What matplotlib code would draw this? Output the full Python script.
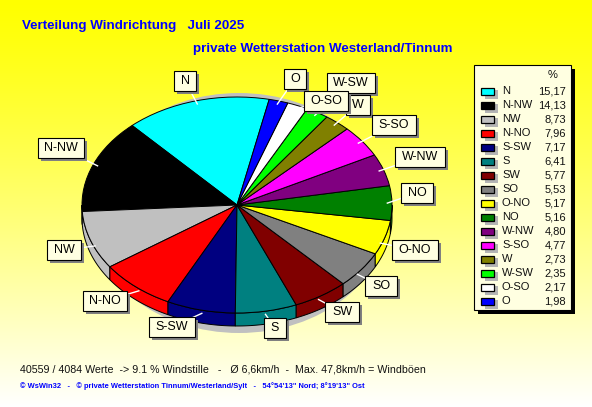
import numpy as np
import matplotlib
matplotlib.use("Agg")
import matplotlib.pyplot as plt
from matplotlib.patches import Rectangle, Polygon, Ellipse

W, H = 592, 407
categories = ["N","N-NW","NW","N-NO","S-SW","S","SW","SO","O-NO","NO","W-NW","S-SO","W","W-SW","O-SO","O"]
values = [15.17,14.13,8.73,7.96,7.17,6.41,5.77,5.53,5.17,5.16,4.80,4.77,2.73,2.35,2.17,1.98]
value_labels = ["15,17","14,13","8,73","7,96","7,17","6,41","5,77","5,53","5,17","5,16","4,80","4,77","2,73","2,35","2,17","1,98"]
colors = ["#00ffff","#000000","#c0c0c0","#ff0000","#000080","#008080","#800000","#808080","#ffff00","#008000","#800080","#ff00ff","#808000","#00ff00","#ffffff","#0000ff"]
label_boxes = {"N":(185,81),"O":(295,79),"W-SW":(351,83),"W":(358,105),"O-SO":(326,101),"S-SO":(394,125),
               "W-NW":(420,157),"NO":(417,193),"O-NO":(415,250),"SO":(381,286),"SW":(342,312),"S":(275,328),
               "S-SW":(172,327),"N-NO":(105,301),"NW":(64,250),"N-NW":(61,148)}
label_order = ["N","O","W-SW","W","O-SO","S-SO","W-NW","NO","O-NO","SO","SW","S","S-SW","N-NO","NW","N-NW"]

plt.rcParams["font.family"] = ["Liberation Sans", "DejaVu Sans"]
fig = plt.figure(figsize=(W/100, H/100), dpi=100)

bg = fig.add_axes([0,0,1,1], zorder=0)
img = np.ones((H,1,3))
img[:,0,2] = np.linspace(0,1,H)**1.2
bg.imshow(img, aspect="auto", extent=(0,W,H,0), interpolation="bilinear")
bg.set_xlim(0,W); bg.set_ylim(H,0); bg.axis("off")

cx, cy, rx, ry, depth = 237, 205, 155, 108, 13
start = 78.0

bg.add_patch(Ellipse((cx+2, 213), 300, 240, fc="#c0c0c0", ec="none", zorder=1))
total = sum(values)
edges = np.r_[0, np.cumsum(values)]/total*360 + start
for i,c in enumerate(colors):
    t = np.radians(np.linspace(edges[i], edges[i+1], 60))
    t = t[np.sin(t) <= 0.0]
    if t.size < 2:
        continue
    x = cx+rx*np.cos(t); y = cy-ry*np.sin(t)
    pts = np.r_[np.c_[x,y], np.c_[x,y+depth][::-1]]
    bg.add_patch(Polygon(pts, closed=True, fc=c, ec="black", lw=0.7, zorder=2))

pie_ax = fig.add_axes([(cx-rx)/W, 1-(cy+ry)/H, 2*rx/W, 2*ry/H], zorder=1)
pie_ax.pie(values, colors=colors, startangle=start, counterclock=True, radius=1,
           wedgeprops=dict(edgecolor="black", linewidth=0.7))
pie_ax.set_aspect("auto"); pie_ax.set_xlim(-1,1); pie_ax.set_ylim(-1,1)
pie_ax.patch.set_alpha(0)

ov = fig.add_axes([0,0,1,1], zorder=2)
ov.set_xlim(0,W); ov.set_ylim(H,0); ov.axis("off"); ov.patch.set_alpha(0)

mid = (edges[:-1]+edges[1:])/2
cream = "#ffffe1"
rend = fig.canvas.get_renderer()
for z,name in enumerate(label_order):
    i = categories.index(name)
    bx,by = label_boxes[name]
    a = np.radians(mid[i])
    px,py = cx+rx*np.cos(a)*0.97, cy-ry*np.sin(a)*0.97
    if np.sin(a)<0:
        py += depth*0.5
    zz = 3+z*0.1
    ov.plot([px,bx],[py,by],color="white",lw=1,zorder=zz)
    t = ov.text(bx,by,name,ha="center",va="center",fontsize=9,color="black",zorder=zz+0.03)
    w = t.get_window_extent(rend).width+13; h = 20
    ov.add_patch(Rectangle((bx-w/2+3,by-h/2+3),w,h,fc="#808080",ec="none",zorder=zz+0.01))
    ov.add_patch(Rectangle((bx-w/2,by-h/2),w,h,fc=cream,ec="black",lw=0.8,zorder=zz+0.02))

# legend
ov.add_patch(Rectangle((478,69),97,245,fc="black",ec="none",zorder=5))
ov.add_patch(Rectangle((474,65),97,245,fc=cream,ec="black",lw=0.8,zorder=5.1))
ov.text(553,75,"%",ha="center",va="center",fontsize=8,color="#111111",zorder=6)
for i,(n,v,c) in enumerate(zip(categories,value_labels,colors)):
    y = 91+14*i
    ov.add_patch(Rectangle((485,y-1),13,9,fc="#b4b4b4",ec="none",zorder=5.5))
    ov.add_patch(Rectangle((481,y-3.5),13,7,fc=c,ec="black",lw=0.9,zorder=5.6))
    ov.text(502,y,n,ha="left",va="center",fontsize=8,color="#111111",zorder=6)
    ov.text(566,y,v,ha="right",va="center",fontsize=8,color="#111111",zorder=6)

ov.text(22,26,"Verteilung Windrichtung   Juli 2025",color="#0000ff",fontsize=9.6,fontweight="bold",va="center",ha="left")
ov.text(193,49,"private Wetterstation Westerland/Tinnum",color="#0000ff",fontsize=9.6,fontweight="bold",va="center",ha="left")
ov.text(20,369,"40559 / 4084 Werte  -> 9.1 % Windstille   -   Ø 6,6km/h  -  Max. 47,8km/h = Windböen",color="#111111",fontsize=7.65,va="center",ha="left")
ov.text(20,386,"© WsWin32   -   © private Wetterstation Tinnum/Westerland/Sylt   -   54°54'13\" Nord; 8°19'13\" Ost",color="#0000ff",fontsize=5.45,fontweight="bold",va="center",ha="left")

fig.savefig("out.png", dpi=100)
